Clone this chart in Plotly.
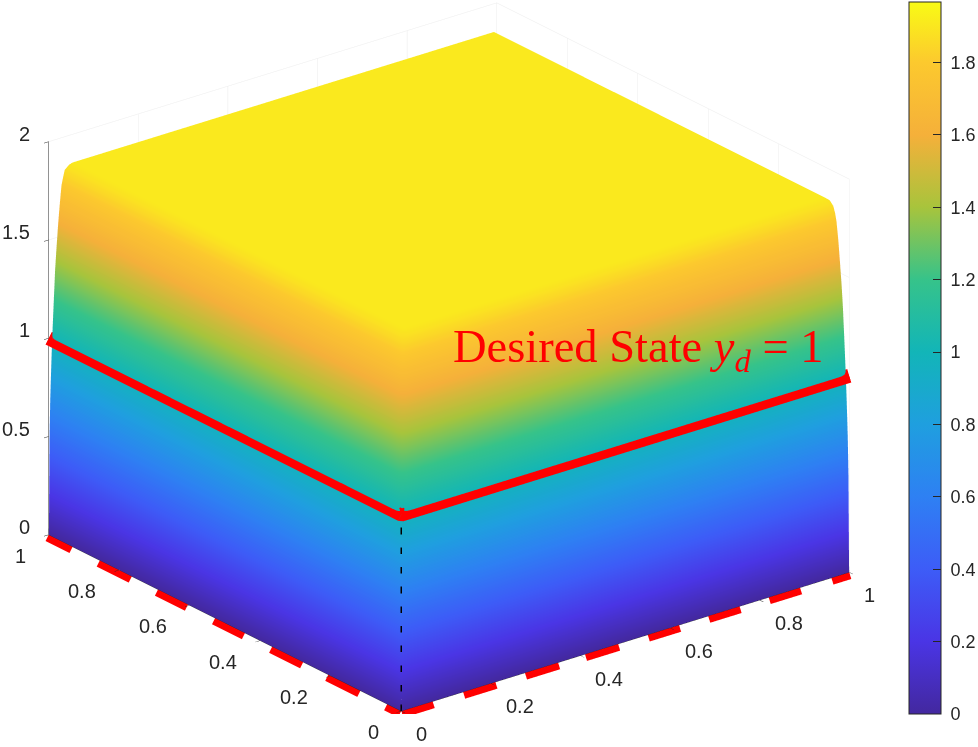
import plotly.graph_objects as go
import numpy as np

WALL_DIST = [0, .0005, .001, .002, .004, .008, .012, .016, .02, .03, .05, .2, .5]
WALL_Z = [0, .5, .95, 1.15, 1.35, 1.6, 1.74, 1.84, 1.88, 1.9, 1.9, 1.9, 1.9]
PARULA = [[0, "#43289f"], [.102, "#4a35e5"], [.203, "#3d5cf7"], [.305, "#2e80f3"], [.407, "#1f9fdf"], [.508, "#12b5b8"],
          [.61, "#36c38a"], [.712, "#a8c43c"], [.813, "#f5b03a"], [.915, "#fcc92e"], [1, "#f9fb15"]]
Z_MAX = 1.967
CB_TICKS = [0, .2, .4, .6, .8, 1, 1.2, 1.4, 1.6, 1.8]
CB_LABELS = ["0", "0.2", "0.4", "0.6", "0.8", "1", "1.2", "1.4", "1.6", "1.8"]
AX_TICKS = [0, .2, .4, .6, .8, 1]
AX_LABELS = ["0", "0.2", "0.4", "0.6", "0.8", "1"]
Z_TICKS = [0, .5, 1, 1.5, 2]
Z_LABELS = ["0", "0.5", "1", "1.5", "2"]
FLOOR = [0, 0]
DESIRED_X = [1, 0, 0]
DESIRED_Y = [0, 0, 1]
DESIRED_Z = [1, 1, 1]
X_DASH_START = [0, .138, .276, .41, .55, .685, .82, .96]
X_DASH_END = [.07, .21, .35, .484, .62, .755, .89, 1]
Y_DASH_START = [0, .116, .278, .443, .605, .764, .932]
Y_DASH_END = [.04, .207, .366, .528, .69, .855, 1]
INK = "#262626"
FONT = dict(family="Liberation Sans", size=18, color=INK)
AX_FONT = dict(family="Liberation Sans", size=20, color=INK)

d = np.array(WALL_DIST)
coord = np.concatenate([d, 1 - d[-2::-1]])
prof = np.concatenate([WALL_Z, WALL_Z[-2::-1]])
Z = np.outer(prof, prof) / max(WALL_Z)

def segs(starts, ends):
    out = []
    for s, e in zip(starts, ends):
        out += [s, e, None]
    return out

fig = go.Figure()
fig.add_trace(go.Surface(x=coord, y=coord, z=Z, colorscale=PARULA, cmin=0, cmax=Z_MAX, hoverinfo="skip",
    lighting=dict(ambient=1, diffuse=0, specular=0, roughness=1, fresnel=0),
    colorbar=dict(x=909/978, xanchor="left", xpad=0, y=(747-714)/747, yanchor="bottom", ypad=0,
        len=712, lenmode="pixels", thickness=32, thicknessmode="pixels", outlinecolor=INK, outlinewidth=1,
        tickvals=CB_TICKS, ticktext=["\u00a0" + t for t in CB_LABELS], ticks="inside", ticklen=8, tickcolor=INK, tickfont=FONT)))
RED = dict(color="#ff0000", width=28)
fig.add_trace(go.Scatter3d(x=DESIRED_X, y=DESIRED_Y, z=DESIRED_Z, mode="lines", line=RED, hoverinfo="skip", showlegend=False))
xd = segs(X_DASH_START, X_DASH_END)
yd = segs(Y_DASH_START, Y_DASH_END)
fig.add_trace(go.Scatter3d(x=xd, y=[0 if v is not None else None for v in xd], z=[0 if v is not None else None for v in xd],
    mode="lines", line=RED, hoverinfo="skip", showlegend=False, connectgaps=False))
fig.add_trace(go.Scatter3d(x=[0 if v is not None else None for v in yd], y=yd, z=[0 if v is not None else None for v in yd],
    mode="lines", line=RED, hoverinfo="skip", showlegend=False, connectgaps=False))
fig.add_trace(go.Scatter3d(x=FLOOR, y=FLOOR, z=[0, 1], mode="lines", line=dict(color="black", width=3, dash="longdash"), hoverinfo="skip", showlegend=False))

def axis(vals, rng):
    return dict(range=rng, tickmode="array", tickvals=vals, title="", showbackground=False, showticklabels=False,
        showgrid=True, gridcolor="#ececec", gridwidth=1, zeroline=False, showline=True, linecolor=INK, linewidth=1,
        ticks="outside", ticklen=6, tickcolor=INK, showspikes=False)

ann = []
for v, t in zip(AX_TICKS, AX_LABELS):
    short = len(t) == 1
    ann.append(dict(x=v, y=0, z=0, text=t, showarrow=False, font=AX_FONT, xshift=(20 if short else 29), yshift=-23))
    ann.append(dict(x=0, y=v, z=0, text=t, showarrow=False, font=AX_FONT, xshift=(-28 if short else -37), yshift=-21))
for v, t in zip(Z_TICKS, Z_LABELS):
    ann.append(dict(x=0, y=1, z=v, text=t, showarrow=False, font=AX_FONT, xanchor="right", xshift=-17, yshift=8))

EYE = [-.569*1.252, -.723*1.252, .394*1.252]
SCALE = 1.597
fig.update_layout(width=978, height=747, margin=dict(l=0, r=0, t=0, b=0, autoexpand=False), paper_bgcolor="white",
    scene=dict(domain=dict(x=[0, .918], y=[.044, 1]),
        xaxis=axis(AX_TICKS, [0, 1]), yaxis=axis(AX_TICKS, [0, 1]), zaxis=axis(Z_TICKS, [0, 2]),
        aspectmode="manual", aspectratio=dict(x=SCALE, y=SCALE, z=.75*SCALE), annotations=ann,
        camera=dict(projection=dict(type="orthographic"), up=dict(x=0, y=0, z=1), center=dict(x=0, y=0, z=0),
            eye=dict(x=EYE[0], y=EYE[1], z=EYE[2]))),
    annotations=[dict(x=451/978, y=(747-350)/747, xref="paper", yref="paper", xanchor="left", yanchor="middle", showarrow=False,
        text="Desired State <i>y<sub>d</sub></i> = 1", font=dict(family="Liberation Serif", size=46.5, color="#ff0000"))])
fig.write_html("out.html", post_script="document.body.style.margin='0';", config=dict(displayModeBar=False))
